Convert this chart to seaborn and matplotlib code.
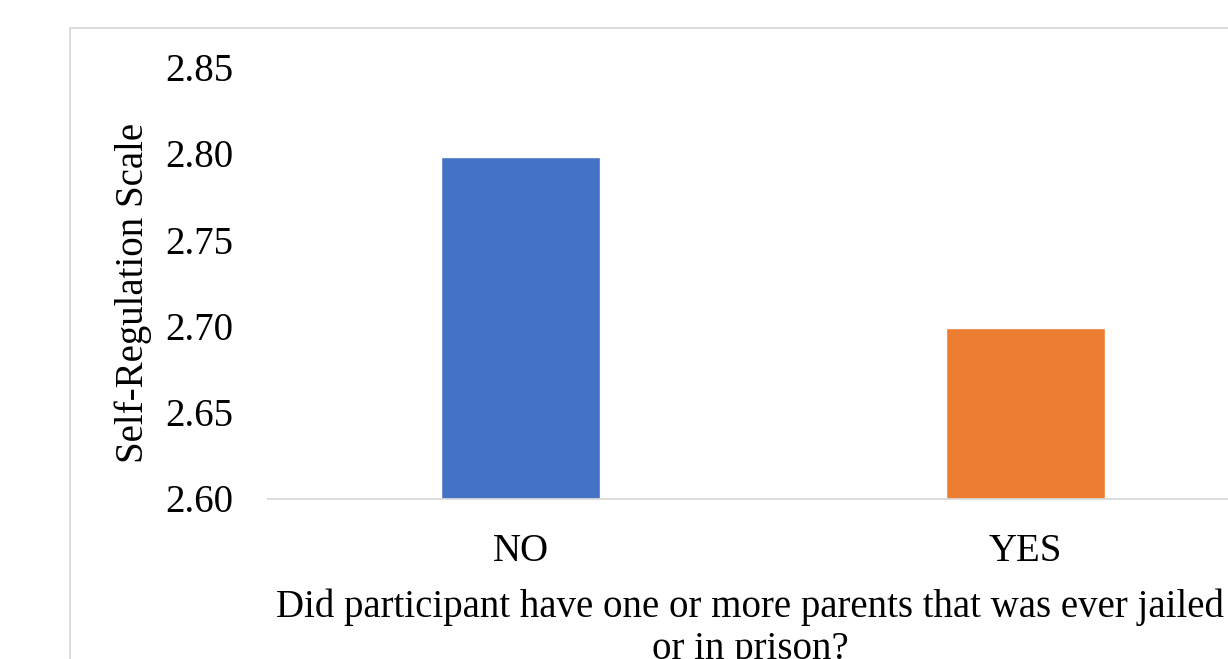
import matplotlib
matplotlib.use("Agg")
import matplotlib.pyplot as plt
from matplotlib.patches import Rectangle
import seaborn as sns
import pandas as pd

categories = ["NO", "YES"]
values = [2.798, 2.699]
colors = ["#4472C4", "#ED7D31"]
y_ticks = [2.60, 2.65, 2.70, 2.75, 2.80, 2.85]
x_title = "Did participant have one or more parents that was ever jailed\nor in prison?"
y_title = "Self-Regulation Scale"

sns.set_theme(style="white")
plt.rcParams["font.family"] = ["Liberation Serif", "DejaVu Serif"]

W, H = 1228, 659
fig = plt.figure(figsize=(W / 100, H / 100), dpi=100)
fig.patch.set_facecolor("white")

# chart-area border (light grey), partly cut off at right/bottom
fig.add_artist(Rectangle((70 / W, -0.1), 1.2, (H - 28) / H + 0.1,
                         transform=fig.transFigure, fill=False,
                         edgecolor="#D9D9D9", linewidth=1.3))

ax = fig.add_axes([268 / W, (H - 498.5) / H, 1010 / W, 431.5 / H])

df = pd.DataFrame({"cat": categories, "val": values})
sns.barplot(data=df, x="cat", y="val", hue="cat", palette=colors,
            width=0.313, legend=False, ax=ax, saturation=1)

ax.set_xlim(-0.5, 1.5)
ax.set_ylim(2.60, 2.85)
ax.set_yticks(y_ticks)
ax.set_yticklabels([f"{t:.2f}" for t in y_ticks])
ax.tick_params(axis="both", length=0, pad=25, labelsize=28, colors="#000000")

for s in ["top", "right", "left"]:
    ax.spines[s].set_visible(False)
ax.spines["bottom"].set_color("#D9D9D9")
ax.spines["bottom"].set_linewidth(1.3)
ax.grid(False)
ax.set_facecolor("white")

ax.set_xlabel(x_title, fontsize=28, color="#000000", linespacing=1.2)
ax.xaxis.set_label_coords((750 - 268) / 1010, -(588 - 498.5) / 431.5)
ax.xaxis.label.set_va("top")

ax.set_ylabel(y_title, fontsize=28, color="#000000")
ax.yaxis.set_label_coords((133 - 268) / 1010, (498.5 - 293) / 431.5)
ax.yaxis.label.set_va("center")

fig.savefig("out.png", dpi=100, facecolor="white")
